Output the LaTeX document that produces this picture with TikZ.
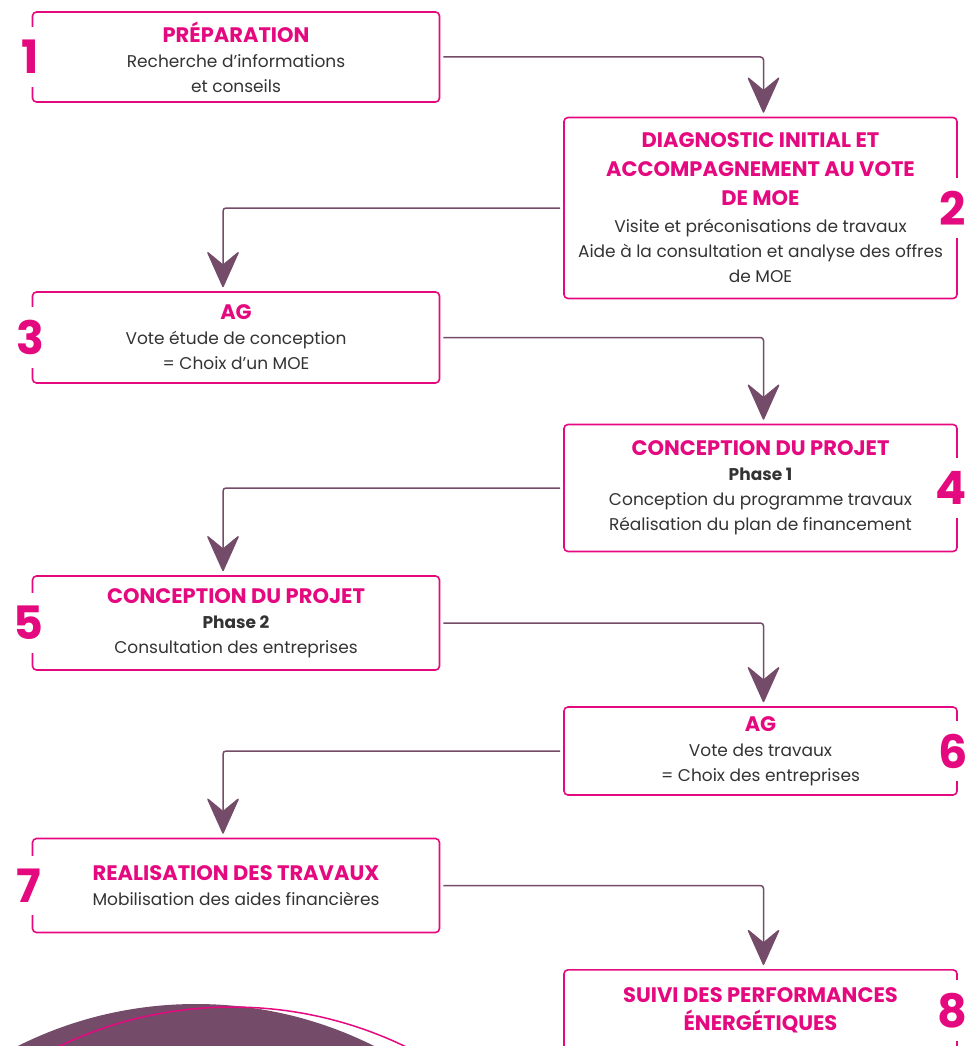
\documentclass[tikz,border=0pt]{standalone}
\usepackage{fontspec}
\setmainfont{Poppins}
\usepackage{tikz}
\usetikzlibrary{arrows.meta,positioning}
\definecolor{rose}{HTML}{E5097F}
\definecolor{mauve}{HTML}{744C6A}
\definecolor{ink}{HTML}{333333}
\newcommand{\titre}[1]{{\color{rose}\fontsize{21}{28}\selectfont\bfseries #1}}
\newcommand{\phase}[1]{{\bfseries #1}}

\begin{document}
\begin{tikzpicture}[x=1pt,y=-1pt,
box/.style={draw=rose,line width=1.6pt,rounded corners=4pt,align=center,text=ink,
    font=\fontsize{17}{25}\selectfont},
num/.style={fill=white,text=rose,inner xsep=1pt,inner ysep=13pt,
    font=\fontsize{46}{46}\selectfont\bfseries},
flow/.style={draw=mauve,line width=1.5pt,rounded corners=3pt,shorten <=3pt,shorten >=4pt,
    -{Stealth[length=38pt,width=34pt,inset=14pt,round]}}]
\useasboundingbox (0,0) rectangle (966,1046);
\clip (0,0) rectangle (966,1046);

\node (prep) [box,minimum width=407,minimum height=90] at (236,57)
    {\titre{PRÉPARATION}\\Recherche d’informations\\et conseils};
\node (diag) [box,minimum width=393,minimum height=181] at (760.5,208)
    {\titre{DIAGNOSTIC INITIAL ET}\\[4pt]\titre{ACCOMPAGNEMENT AU VOTE}\\[4pt]\titre{DE MOE}\\[2pt]
     Visite et préconisations de travaux\\Aide à la consultation et analyse des offres\\de MOE};
\node (ag1) [box,minimum width=407,minimum height=91] at (236,337.5)
    {\titre{AG}\\Vote étude de conception\\= Choix d’un MOE};
\node (conc1) [box,minimum width=393,minimum height=127] at (760.5,488)
    {\titre{CONCEPTION DU PROJET}\\\phase{Phase 1}\\Conception du programme travaux\\Réalisation du plan de financement};
\node (conc2) [box,minimum width=407,minimum height=94] at (236,623)
    {\titre{CONCEPTION DU PROJET}\\\phase{Phase 2}\\Consultation des entreprises};
\node (ag2) [box,minimum width=393,minimum height=88] at (760.5,751)
    {\titre{AG}\\Vote des travaux\\= Choix des entreprises};
\node (real) [box,minimum width=407,minimum height=94] at (236,885.5)
    {\titre{REALISATION DES TRAVAUX}\\Mobilisation des aides financières};
\node (suivi) [box,anchor=north,minimum width=393,minimum height=160] at (760.5,969) {};
\node (suivitxt) [below=15pt of suivi.north,align=center,font=\fontsize{17}{28}\selectfont]
    {\titre{SUIVI DES PERFORMANCES}\\\titre{ÉNERGÉTIQUES}};

\node (n1) [num] at ([xshift=-2pt]prep.west) {1};
\node (n2) [num] at ([xshift=-5pt]diag.east) {2};
\node (n3) [num] at ([xshift=-1pt]ag1.west) {3};
\node (n4) [num] at ([xshift=-7pt]conc1.east) {4};
\node (n5) [num] at ([xshift=-3pt]conc2.west) {5};
\node (n6) [num] at ([xshift=-5pt]ag2.east) {6};
\node (n7) [num] at ([xshift=-3pt]real.west) {7};
\node (n8) [num] at ([xshift=-5pt]suivi.east |- suivitxt) {8};

\draw[flow] (prep.east) -| ([xshift=3pt]diag.north);
\draw[flow] (diag.west) -| ([xshift=-13pt]ag1.north);
\draw[flow] (ag1.east) -| ([xshift=3pt]conc1.north);
\draw[flow] (conc1.west) -| ([xshift=-13pt]conc2.north);
\draw[flow] (conc2.east) -| ([xshift=3pt]ag2.north);
\draw[flow] (ag2.west) -| ([xshift=-13pt]real.north);
\draw[flow] (real.east) -| ([xshift=3pt]suivi.north);

\fill[mauve] (196,1402) circle (398pt);
\draw[rose,line width=1.5pt] (232,1406) circle (399pt);
\end{tikzpicture}
\end{document}
